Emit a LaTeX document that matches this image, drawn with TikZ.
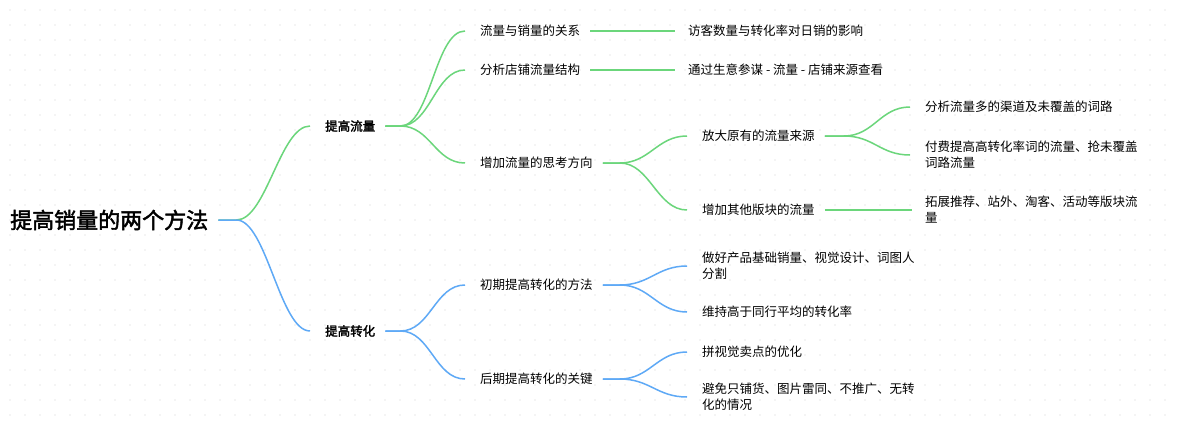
\documentclass[tikz,border=0pt]{standalone}
\usepackage{fontspec}
\setmainfont{Noto Sans CJK SC}[AutoFakeBold=2]
\definecolor{gr}{HTML}{6BD67B}
\definecolor{bl}{HTML}{5EA9F6}
\begin{document}
\begin{tikzpicture}[x=1pt,y=-1pt,
  t/.style={anchor=west,inner sep=0pt,font=\fontsize{12.5}{16}\selectfont},
  m/.style={t,font=\fontsize{12.5}{16}\selectfont\bfseries},
  lf/.style={t,text width=240pt,align=left},
  g/.style={draw=gr,line width=1.5pt},
  b/.style={draw=bl,line width=1.5pt}]
\useasboundingbox (0,0) rectangle (1177,428);
\fill[white] (0,0) rectangle (1177,428);
\foreach \i in {0,...,78}{\foreach \j in {0,...,28}{\fill[black!18] (10+15*\i,10+15*\j) circle (0.7);}}
\newcommand{\mybr}[4]{\draw[#1] ([xshift=10pt]#2.east) -- ++(#4,0) .. controls +(30,0) and +(-30,0) .. ([xshift=-15pt]#3.west);}
\newcommand{\myln}[3]{\draw[#1] ([xshift=10pt]#2.east) -- ([xshift=-13pt]#3.west);}
\node[t,font=\fontsize{22}{26}\selectfont\bfseries] (r) at (10,220) {提高销量的两个方法};
\node[m] (A) at (325,126) {提高流量};
\node[m] (B) at (325,331) {提高转化};
\node[t] (A1) at (480,31) {流量与销量的关系};
\node[t] (A2) at (480,70) {分析店铺流量结构};
\node[t] (A3) at (480,163) {增加流量的思考方向};
\node[t] (A1a) at (688,31) {访客数量与转化率对日销的影响};
\node[t] (A2a) at (688,70) {通过生意参谋 - 流量 - 店铺来源查看};
\node[t] (A31) at (702,136) {放大原有的流量来源};
\node[t] (A32) at (702,210) {增加其他版块的流量};
\node[t] (L1) at (925,107) {分析流量多的渠道及未覆盖的词路};
\node[lf] (L2) at (925,155) {付费提高高转化率词的流量、抢未覆盖\\词路流量};
\node[lf] (L3) at (925,210) {拓展推荐、站外、淘客、活动等版块流\\量};
\node[t] (B1) at (480,285) {初期提高转化的方法};
\node[t] (B2) at (480,379) {后期提高转化的关键};
\node[lf] (B11) at (702,266) {做好产品基础销量、视觉设计、词图人\\分割};
\node[t] (B12) at (702,312) {维持高于同行平均的转化率};
\node[t] (B21) at (702,352) {拼视觉卖点的优化};
\node[lf] (B22) at (702,397) {避免只铺货、图片雷同、不推广、无转\\化的情况};
\mybr{g}{r}{A}{18}
\mybr{b}{r}{B}{18}
\mybr{g}{A}{A1}{15}
\mybr{g}{A}{A2}{15}
\mybr{g}{A}{A3}{15}
\myln{g}{A1}{A1a}
\myln{g}{A2}{A2a}
\mybr{g}{A3}{A31}{17}
\mybr{g}{A3}{A32}{17}
\mybr{g}{A31}{L1}{19}
\mybr{g}{A31}{L2}{19}
\myln{g}{A32}{L3}
\mybr{b}{B}{B1}{15}
\mybr{b}{B}{B2}{15}
\mybr{b}{B1}{B11}{17}
\mybr{b}{B1}{B12}{17}
\mybr{b}{B2}{B21}{17}
\mybr{b}{B2}{B22}{17}
\end{tikzpicture}
\end{document}
